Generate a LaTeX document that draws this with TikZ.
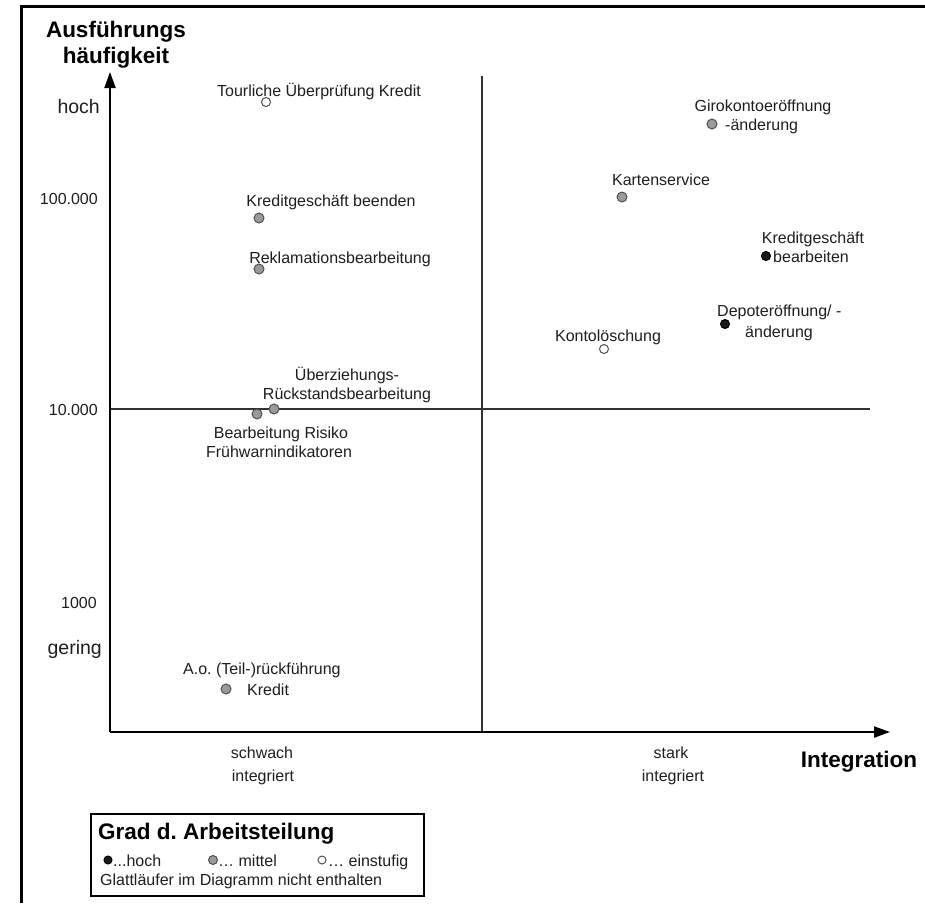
\documentclass[tikz,border=0pt]{standalone}
\usepackage{fontspec}
\setmainfont{Liberation Sans}
\usetikzlibrary{arrows.meta}
\definecolor{txt}{HTML}{1E1E1E}
\definecolor{dotgray}{HTML}{9A9A9A}
\definecolor{dotedge}{HTML}{505050}
\definecolor{dothigh}{HTML}{1A1A1A}
\frenchspacing
\begin{document}
\begin{tikzpicture}[x=1pt,y=-1pt,
  lbl/.style={inner sep=0pt,text=txt,font=\fontsize{16}{19}\selectfont,anchor=mid,yshift=-4pt},
  lblw/.style={lbl,anchor=mid west},
  lble/.style={lbl,anchor=mid east},
  big/.style={inner sep=0pt,text=txt,font=\fontsize{19.5}{23}\selectfont,anchor=mid east,yshift=-4pt},
  head/.style={inner sep=0pt,text=black,font=\fontsize{22.5}{27}\selectfont\bfseries,anchor=mid,yshift=-5pt},
  mdot/.style={circle,inner sep=0pt,minimum size=10pt,draw=dotedge,line width=1pt,fill=dotgray},
  odot/.style={circle,inner sep=0pt,minimum size=9pt,draw=dotedge,line width=1pt,fill=white},
  hdot/.style={circle,inner sep=0pt,minimum size=9pt,draw=black,line width=1pt,fill=dothigh},
  axisline/.style={line width=2pt,draw=black},
  gridline/.style={line width=1.5pt,draw=black!80},
  tip/.style={-{Triangle[length=16pt,width=11pt]}}
]
\useasboundingbox[fill=white] (0,0) rectangle (925,903);
% outer frame
\draw[line width=3pt] (21,903) -- (21,6) -- (925,6);

% axes
\coordinate (O) at (110,732);
\coordinate (ytip) at (110,72);
\coordinate (xtip) at (890,732);
\coordinate (vtop) at (482,76);
\coordinate (vbot) at (482,732);
\coordinate (hl) at (110,409);
\coordinate (hr) at (870,409);
\draw[gridline] (vtop) -- (vbot);
\draw[gridline] (hl) -- (hr);
\draw[axisline,tip] (O) -- (ytip);
\draw[axisline,tip] (O) -- (xtip);

% axis titles
\node[head] (yt1) at (116,30) {Ausführungs};
\node[head] (yt2) at (116,56) {häufigkeit};
\node[head] (xt) at (859,760) {Integration};

% y tick labels
\node[big] (hoch) at (100,107) {hoch};
\node[lble] (t100k) at (98,198) {100.000};
\node[lble] (t10k) at (98,409) {10.000};
\node[lble] (t1k) at (97,602) {1000};
\node[big] (gering) at (102,648) {gering};

% x category labels
\node[lbl] (sw1) at (262,752) {schwach};
\node[lbl] (sw2) at (263,775) {integriert};
\node[lbl] (st1) at (671,752) {stark};
\node[lbl] (st2) at (673,775) {integriert};

% points, left half
\node[lbl] (tourL) at (319,90) {Tourliche Überprüfung Kredit};
\node[odot] (tour) at (266,102) {};
\node[lbl] (kbL) at (331,200) {Kreditgeschäft beenden};
\node[mdot] (kb) at (259,218) {};
\node[lbl] (rekL) at (340,257) {Reklamationsbearbeitung};
\node[mdot] (rek) at (259,269) {};
\node[lbl] (ueL1) at (347,374) {Überziehungs-};
\node[lbl] (ueL2) at (347,393) {Rückstandsbearbeitung};
\node[mdot] (ue) at (274,409) {};
\node[mdot] (br) at (257,414) {};
\node[lbl] (brL1) at (281,432) {Bearbeitung Risiko};
\node[lbl] (brL2) at (279,451) {Frühwarnindikatoren};
\node[lblw] (aoL1) at (183,668) {A.o. (Teil-)rückführung};
\node[mdot] (ao) at (226,689) {};
\node[lblw] (aoL2) at (247,689) {Kredit};

% points, right half
\node[lbl] (giroL1) at (763,105) {Girokontoeröffnung};
\node[mdot] (giro) at (712,124) {};
\node[lblw] (giroL2) at (725,124) {-änderung};
\node[lbl] (karL) at (661,179) {Kartenservice};
\node[mdot] (kar) at (622,197) {};
\node[lbl] (kgbL1) at (813,237) {Kreditgeschäft};
\node[hdot] (kgb) at (766,256) {};
\node[lblw] (kgbL2) at (773,256) {bearbeiten};
\node[lblw] (depL1) at (717,310) {Depoteröffnung/ -};
\node[hdot] (dep) at (725,324) {};
\node[lblw] (depL2) at (745,331) {änderung};
\node[lbl] (konL) at (608,335) {Kontolöschung};
\node[odot] (kon) at (604,349) {};

% legend
\node[draw=black,line width=1.5pt,anchor=north west,minimum width=333pt,minimum height=82pt,inner sep=0pt] (legend) at (90,813) {};
\node[head,anchor=mid west] (legT) at (98,832) {Grad d. Arbeitsteilung};
\node[hdot,minimum size=8pt] (lh) at (108,860) {};
\node[lblw] (lhL) at (113,860) {...hoch};
\node[mdot,minimum size=9pt] (lm) at (213,860) {};
\node[lblw] (lmL) at (218,860) {… mittel};
\node[odot,minimum size=8pt] (lo) at (322,860) {};
\node[lblw] (loL) at (328,860) {… einstufig};
\node[lblw] (lg) at (100,879) {Glattläufer im Diagramm nicht enthalten};
\end{tikzpicture}
\end{document}
